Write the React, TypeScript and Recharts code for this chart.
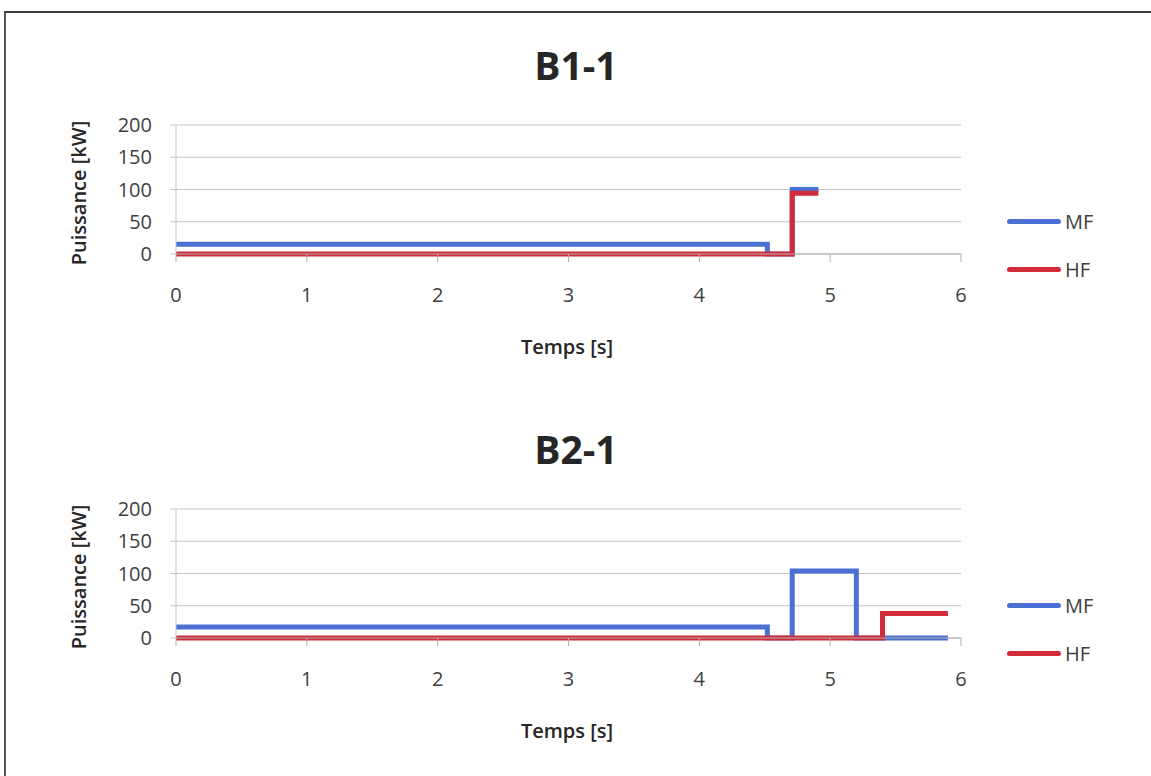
import React from 'react';
import { LineChart, Line, XAxis, YAxis, CartesianGrid } from 'recharts';

// Step-shaped power profiles.
const xTicks = [0, 1, 2, 3, 4, 5, 6];
const yTicks = [0, 50, 100, 150, 200];

const b1Mf = [
  { t: 0, p: 15 }, { t: 4.52, p: 15 }, { t: 4.52, p: 0 },
  { t: 4.71, p: 0 }, { t: 4.71, p: 100 }, { t: 4.91, p: 100 },
];
const b1Hf = [
  { t: 0, p: 0 }, { t: 4.71, p: 0 }, { t: 4.71, p: 94 }, { t: 4.91, p: 94 },
];

const b2Mf = [
  { t: 0, p: 17 }, { t: 4.52, p: 17 }, { t: 4.52, p: 0 },
  { t: 4.71, p: 0 }, { t: 4.71, p: 104 }, { t: 5.2, p: 104 },
  { t: 5.2, p: 0 }, { t: 5.9, p: 0 },
];
const b2Hf = [
  { t: 0, p: 0 }, { t: 5.4, p: 0 }, { t: 5.4, p: 38 }, { t: 5.9, p: 38 },
];

const BLUE = '#4c6fd3';
const RED = '#d22b3b';
const FONT = "'Open Sans', Lato, sans-serif";

const seriesLegend = [
  { name: 'MF', color: BLUE },
  { name: 'HF', color: RED },
];

// legend drawn beside the plot, like the Excel original
const LegendBox = () => (
  <div style={{ position: 'absolute', left: 1007, top: 208, fontFamily: FONT, fontSize: 20, color: '#404040' }}>
    {seriesLegend.map((s, i) => (
      <div key={s.name} style={{ display: 'flex', alignItems: 'center', height: 26, marginTop: i === 0 ? 0 : 22 }}>
        <div style={{ width: 54, height: 5, borderRadius: 3, background: s.color, marginRight: 4 }} />
        <span>{s.name}</span>
      </div>
    ))}
  </div>
);

interface PowerChartProps {
  title: string;
  mf: { t: number; p: number }[];
  hf: { t: number; p: number }[];
  top: number;
}

const PowerChart: React.FC<PowerChartProps> = ({ title, mf, hf, top }) => (
  <div style={{ position: 'absolute', left: 0, top, width: 1151, height: 384 }}>
    <div style={{
      position: 'absolute', left: 576, top: 64, transform: 'translate(-50%, -50%)', whiteSpace: 'nowrap',
      fontFamily: FONT, fontWeight: 700, fontSize: 39, color: '#262626',
    }}>{title}</div>
    <div style={{
      position: 'absolute', left: 78, top: 193, transform: 'translate(-50%, -50%) rotate(-90deg)',
      fontFamily: FONT, fontWeight: 600, fontSize: 20, color: '#262626', whiteSpace: 'nowrap',
    }}>Puissance [kW]</div>
    <div style={{
      position: 'absolute', left: 567, top: 346, transform: 'translate(-50%, -50%)',
      fontFamily: FONT, fontWeight: 600, fontSize: 20, color: '#262626', whiteSpace: 'nowrap',
    }}>Temps [s]</div>
    <LineChart width={1151} height={384} margin={{ top: 125, right: 190, bottom: 100, left: 0 }}>
      <CartesianGrid vertical={false} stroke="#c4c4c4" strokeWidth={1.2} />
      <XAxis
        type="number"
        dataKey="t"
        domain={[0, 6]}
        ticks={xTicks}
        interval={0}
        height={30}
        tickSize={8}
        tickMargin={26}
        stroke="#b0b0b0"
        tick={{ fontFamily: FONT, fontSize: 20, fill: '#404040' }}
        allowDuplicatedCategory={false}
      />
      <YAxis
        type="number"
        domain={[0, 200]}
        ticks={yTicks}
        interval={0}
        width={176}
        tickSize={6}
        tickMargin={18}
        stroke="#c4c4c4"
        tick={{ fontFamily: FONT, fontSize: 20, fill: '#404040' }}
      />
      <Line data={mf} dataKey="p" name="MF" type="linear" stroke={BLUE} strokeWidth={5} dot={false} isAnimationActive={false} />
      <Line data={hf} dataKey="p" name="HF" type="linear" stroke={RED} strokeWidth={5} dot={false} isAnimationActive={false} />
    </LineChart>
    <LegendBox />
  </div>
);

export default function App() {
  return (
    <div style={{ position: 'absolute', left: 0, top: 0, width: 1151, height: 776, background: '#fff', overflow: 'hidden' }}>
      <div style={{ position: 'absolute', left: 4, top: 11, width: 1160, height: 800, borderTop: '2px solid #3a3a3a', borderLeft: '2px solid #555' }} />
      <PowerChart title="B1-1" mf={b1Mf} hf={b1Hf} top={0} />
      <PowerChart title="B2-1" mf={b2Mf} hf={b2Hf} top={384} />
    </div>
  );
}
